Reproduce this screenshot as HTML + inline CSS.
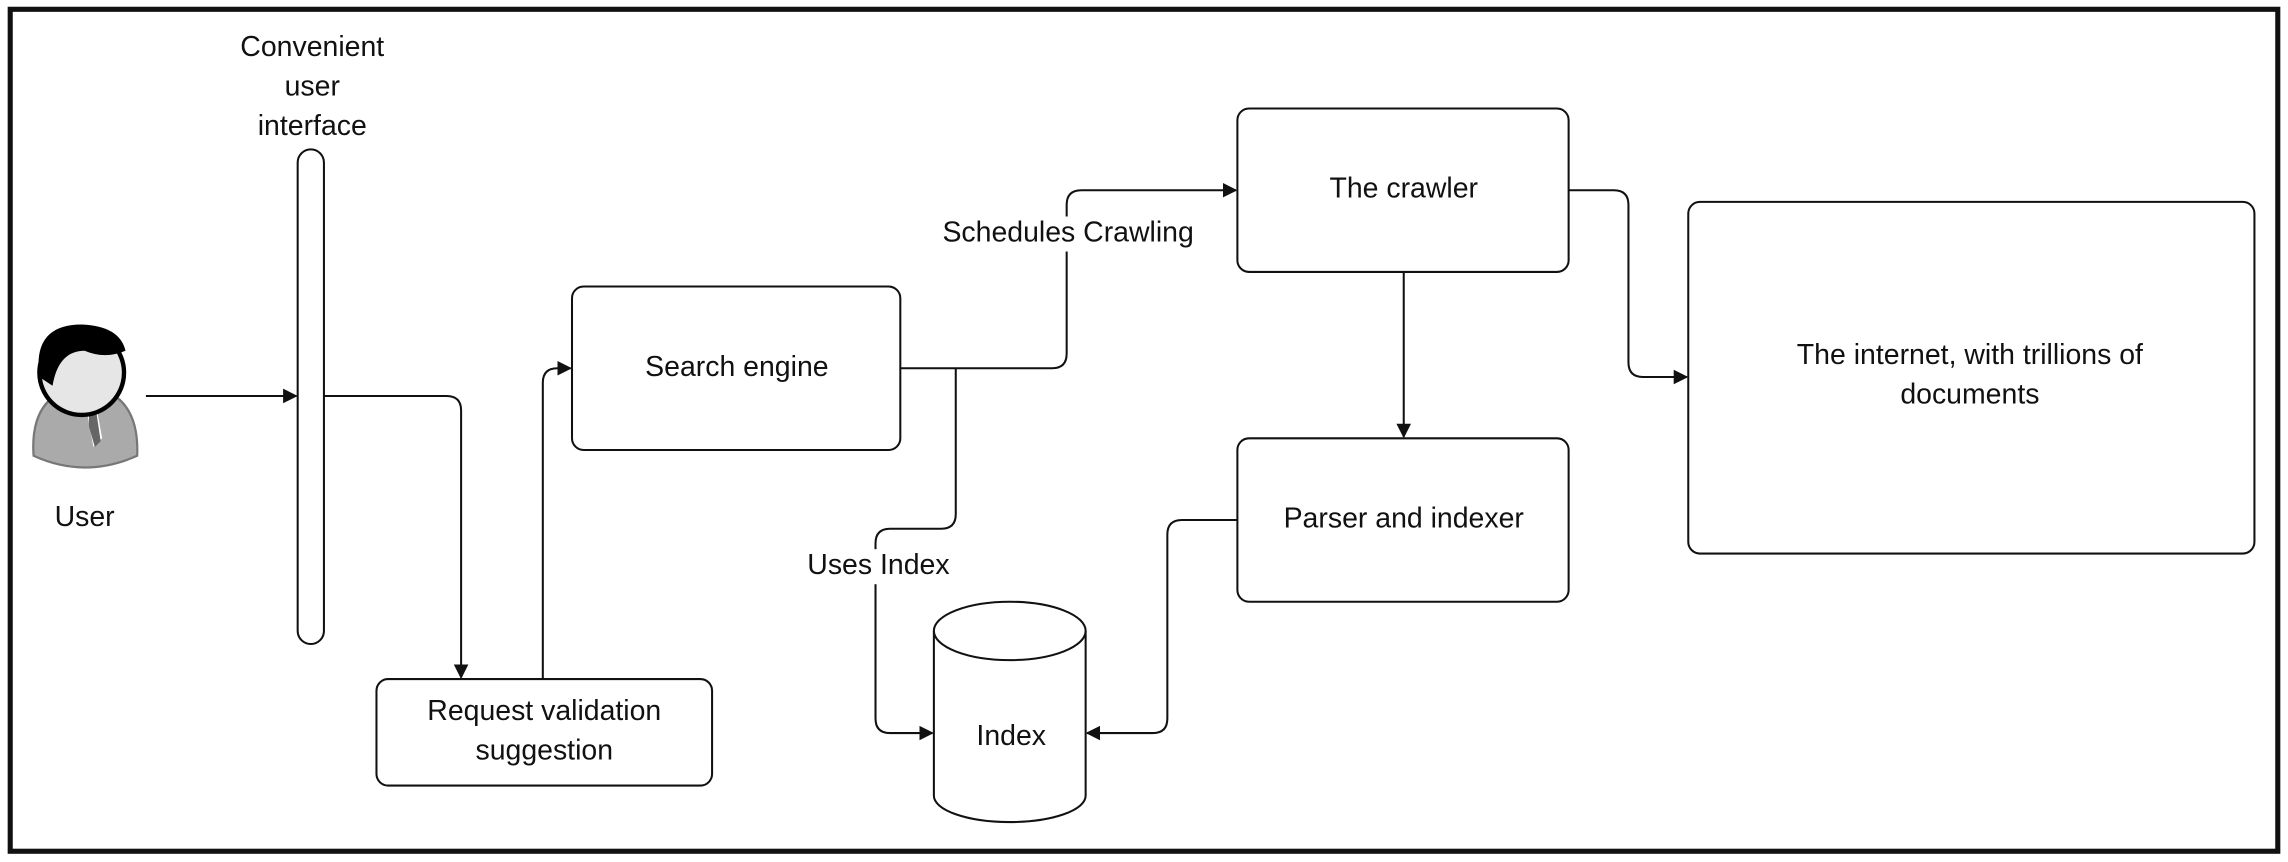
<!DOCTYPE html>
<html><head><style>html,body{margin:0;padding:0;background:#fff}svg{display:block}text{font-family:"Liberation Sans",sans-serif;font-size:19.5px;fill:#111;text-anchor:middle;dominant-baseline:middle}</style></head>
<body>
<svg width="2288" height="862" viewBox="0 0 1568 590" xmlns="http://www.w3.org/2000/svg">
<defs><marker id="a" markerWidth="10" markerHeight="10" refX="9" refY="5" orient="auto" markerUnits="userSpaceOnUse"><path d="M0,0 L10,5 L0,10 z" fill="#111"/></marker></defs>
<rect x="7" y="6" width="1554" height="577" fill="#fff" stroke="#111" stroke-width="3.5"/>
<g fill="#fff" stroke="#111" stroke-width="1.4">
<rect x="204" y="102" width="18" height="339" rx="9"/>
<rect x="258" y="465" width="230" height="73" rx="8"/>
<rect x="392" y="196" width="225" height="112" rx="8"/>
<rect x="848" y="74" width="227" height="112" rx="8"/>
<rect x="848" y="300" width="227" height="112" rx="8"/>
<rect x="1157" y="138" width="388" height="241" rx="8"/>
<path d="M640,432 L640,545 A52,18 0 0 0 744,545 L744,432"/>
<ellipse cx="692" cy="432" rx="52" ry="20"/>
</g>
<g fill="none" stroke="#111" stroke-width="1.4">
<path d="M100,271 L203,271" marker-end="url(#a)"/>
<path d="M222,271 L306,271 Q316,271 316,281 L316,464" marker-end="url(#a)"/>
<path d="M372,465 L372,262 Q372,252 382,252 L391,252" marker-end="url(#a)"/>
<path d="M617,252 L721,252 Q731,252 731,242 L731,140 Q731,130 741,130 L847,130" marker-end="url(#a)"/>
<path d="M962,186 L962,299" marker-end="url(#a)"/>
<path d="M848,356 L810,356 Q800,356 800,366 L800,492 Q800,502 790,502 L745,502" marker-end="url(#a)"/>
<path d="M655,252 L655,352 Q655,362 645,362 L610,362 Q600,362 600,372 L600,492 Q600,502 610,502 L639,502" marker-end="url(#a)"/>
<path d="M1075,130 L1106,130 Q1116,130 1116,140 L1116,248 Q1116,258 1126,258 L1156,258" marker-end="url(#a)"/>
</g>
<rect x="640" y="148" width="184" height="24" fill="#fff"/>
<rect x="550" y="376" width="104" height="24" fill="#fff"/>
<text x="732" y="160">Schedules Crawling</text>
<text x="602" y="388">Uses Index</text>
<text x="214" y="33">Convenient</text>
<text x="214" y="60">user</text>
<text x="214" y="87">interface</text>
<text x="58" y="355">User</text>
<text x="373" y="488">Request validation</text>
<text x="373" y="515">suggestion</text>
<text x="505" y="252">Search engine</text>
<text x="962" y="130">The crawler</text>
<text x="962" y="356">Parser and indexer</text>
<text x="693" y="505">Index</text>
<text x="1350" y="244">The internet, with trillions of</text>
<text x="1350" y="271">documents</text>
<g>
<path d="M23,312 Q20,268 58,264 Q96,268 94,312 Q58,328 23,312 z" fill="#aaa" stroke="#777" stroke-width="1.5"/>
<path d="M50,278 L66,278 L70,300 L64,306 L60,284 z" fill="#fff"/>
<path d="M61,282 L66,282 L69,302 L65,306 L61,292 z" fill="#666"/>
<circle cx="56" cy="255" r="29" fill="#e6e6e6" stroke="#000" stroke-width="3"/>
<path d="M27,258 Q22,222 56,222 Q82,223 86,240 Q72,246 58,240 Q40,240 36,264 z" fill="#000"/>
</g>
</svg>
</body></html>
